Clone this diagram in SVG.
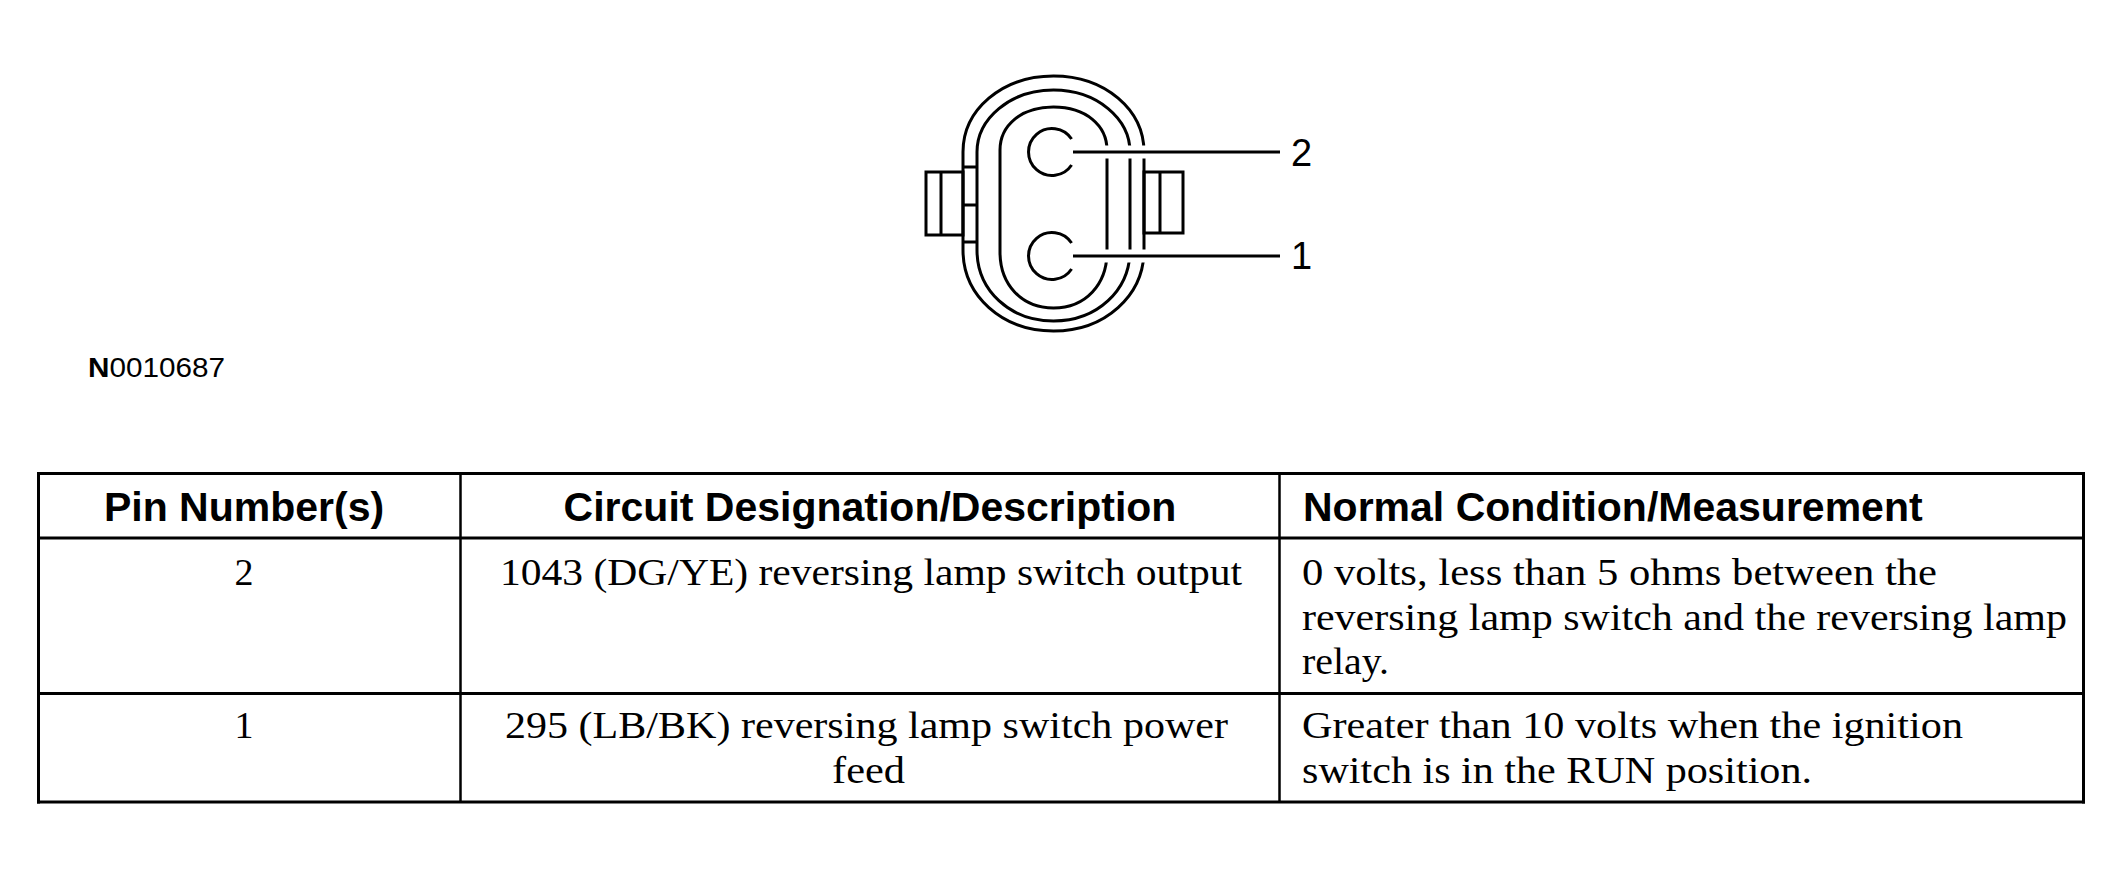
<svg xmlns="http://www.w3.org/2000/svg" width="2124" height="879" viewBox="0 0 2124 879">
<style>
.ln{fill:none;stroke:#000;stroke-width:3}
.halo{fill:none;stroke:#fff;stroke-width:13}
.lead{fill:none;stroke:#000;stroke-width:3}
.lbl{font-family:"Liberation Sans",Arial,sans-serif;font-size:38px;fill:#000}
.hd{font-family:"Liberation Sans",Arial,sans-serif;font-size:41px;font-weight:bold;fill:#000}
.bd{font-family:"Liberation Serif","Times New Roman",serif;font-size:38px;fill:#000}
.tb{stroke:#000;stroke-width:3;fill:none}
.tv{stroke:#000;stroke-width:2.5;fill:none}
</style>
<rect x="0" y="0" width="2124" height="879" fill="#fff"/>
<g id="connector">
<path class="ln" d="M963,152 C963,109.8 1001.9,76 1053.5,76 C1105.1,76 1144,109.8 1144,152 L1144,250 C1144,295.6 1105.1,331 1053.5,331 C1001.9,331 963,295.6 963,250 Z"/>
<path class="ln" d="M977,152 C977,118.8 1009.9,90 1053.5,90 C1097.1,90 1130,118.8 1130,152 L1130,250 C1130,290.5 1097.1,321 1053.5,321 C1009.9,321 977,290.5 977,250 Z"/>
<path class="ln" d="M1000,150 C1000,125.5 1021,107 1053.5,107 C1086,107 1107,125.5 1107,150 L1107,252 C1107,284 1086,308 1053.5,308 C1021,308 1000,284 1000,252 Z"/>
<g id="tab-left">
<rect class="ln" x="926" y="172" width="37" height="63"/>
<line class="ln" x1="941" y1="172" x2="941" y2="235"/>
<line class="ln" x1="963" y1="167" x2="977" y2="167"/>
<line class="ln" x1="963" y1="205" x2="977" y2="205"/>
<line class="ln" x1="963" y1="242" x2="977" y2="242"/>
</g>
<g id="tab-right">
<rect class="ln" x="1144" y="172" width="39" height="61"/>
<line class="ln" x1="1160" y1="172" x2="1160" y2="233"/>
</g>
</g>
<g id="pin2">
<path class="ln" d="M1071.6,165 A23.5,23.5 0 1 1 1071.6,139"/>
<text class="lbl" x="1291" y="166">2</text>
</g>
<g id="pin1">
<path class="ln" d="M1071.6,269 A23.5,23.5 0 1 1 1071.6,243"/>
<text class="lbl" x="1291" y="269">1</text>
</g>
<g id="connectors">
<line class="halo" x1="1080" y1="152" x2="1278" y2="152"/>
<line class="lead" x1="1073" y1="152" x2="1280" y2="152"/>
<line class="halo" x1="1080" y1="256" x2="1278" y2="256"/>
<line class="lead" x1="1073" y1="256" x2="1280" y2="256"/>
</g>
<text id="figure-id" x="88" y="377" font-family="'Liberation Sans',Arial,sans-serif" font-size="27" textLength="137" lengthAdjust="spacingAndGlyphs"><tspan font-weight="bold">N</tspan>0010687</text>
<g id="table">
<line class="tb" x1="37" y1="473.5" x2="2085" y2="473.5"/>
<line class="tb" x1="37" y1="538" x2="2085" y2="538"/>
<line class="tb" x1="37" y1="693.5" x2="2085" y2="693.5"/>
<line class="tb" x1="37" y1="802" x2="2085" y2="802"/>
<line class="tb" x1="38.5" y1="472" x2="38.5" y2="803.5"/>
<line class="tb" x1="2083.5" y1="472" x2="2083.5" y2="803.5"/>
<line class="tv" x1="460.5" y1="473.5" x2="460.5" y2="802"/>
<line class="tv" x1="1279.5" y1="473.5" x2="1279.5" y2="802"/>
<text class="hd" x="244" y="521" text-anchor="middle">Pin Number(s)</text>
<text class="hd" x="870" y="521" text-anchor="middle">Circuit Designation/Description</text>
<text class="hd" x="1303" y="521">Normal Condition/Measurement</text>
<text class="bd" x="244" y="585" text-anchor="middle">2</text>
<text class="bd" x="500" y="585" textLength="742" lengthAdjust="spacingAndGlyphs">1043 (DG/YE) reversing lamp switch output</text>
<text class="bd" x="1302" y="585" textLength="635" lengthAdjust="spacingAndGlyphs">0 volts, less than 5 ohms between the</text>
<text class="bd" x="1302" y="629.5" textLength="765" lengthAdjust="spacingAndGlyphs">reversing lamp switch and the reversing lamp</text>
<text class="bd" x="1302" y="674" textLength="87" lengthAdjust="spacingAndGlyphs">relay.</text>
<text class="bd" x="244" y="738" text-anchor="middle">1</text>
<text class="bd" x="505" y="738" textLength="723" lengthAdjust="spacingAndGlyphs">295 (LB/BK) reversing lamp switch power</text>
<text class="bd" x="832" y="782.5" textLength="73" lengthAdjust="spacingAndGlyphs">feed</text>
<text class="bd" x="1302" y="738" textLength="661" lengthAdjust="spacingAndGlyphs">Greater than 10 volts when the ignition</text>
<text class="bd" x="1302" y="782.5" textLength="510" lengthAdjust="spacingAndGlyphs">switch is in the RUN position.</text>
</g>
</svg>
